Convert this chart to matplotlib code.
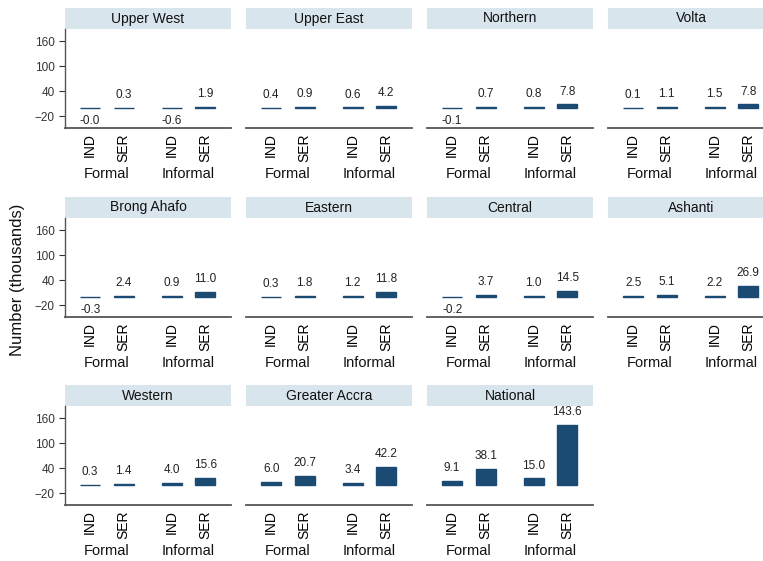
import numpy as np
import matplotlib
matplotlib.use('Agg')
import matplotlib.pyplot as plt

plt.rcParams['font.family'] = ['Liberation Sans', 'DejaVu Sans']

# Regions and values (thousands): Formal IND, Formal SER, Informal IND, Informal SER
regions = ['Upper West', 'Upper East', 'Northern', 'Volta',
           'Brong Ahafo', 'Eastern', 'Central', 'Ashanti',
           'Western', 'Greater Accra', 'National']
formal_ind = [-0.0, 0.4, -0.1, 0.1, -0.3, 0.3, -0.2, 2.5, 0.3, 6.0, 9.1]
formal_ser = [0.3, 0.9, 0.7, 1.1, 2.4, 1.8, 3.7, 5.1, 1.4, 20.7, 38.1]
informal_ind = [-0.6, 0.6, 0.8, 1.5, 0.9, 1.2, 1.0, 2.2, 4.0, 3.4, 15.0]
informal_ser = [1.9, 4.2, 7.8, 7.8, 11.0, 11.8, 14.5, 26.9, 15.6, 42.2, 143.6]
bar_labels = ['IND', 'SER', 'IND', 'SER']
groups = ['Formal', 'Informal']
yticks = [-20, 40, 100, 160]

W, H = 763, 561
fig = plt.figure(figsize=(W / 100, H / 100), dpi=100)
fig.patch.set_facecolor('white')

bar_col = '#1b4a72'
strip_col = '#d8e5ec'
xpos = np.array([0, 1, 2.43, 3.43])

col_x = [65, 246, 427, 608]
strip_top = [8, 197, 385]
strip_h = 21
plot_h = 99
panel_w = 166


def px(x, y, w, h):
    return [x / W, 1 - (y + h) / H, w / W, h / H]


for i, name in enumerate(regions):
    r, c = divmod(i, 4)
    x0 = col_x[c]
    y0 = strip_top[r]

    # strip with the region name
    sax = fig.add_axes(px(x0, y0, panel_w, strip_h))
    sax.set_facecolor(strip_col)
    sax.set_xticks([])
    sax.set_yticks([])
    for s in sax.spines.values():
        s.set_visible(False)
    sax.text(0.5, 0.5, name, ha='center', va='center', fontsize=10, color='#111111')

    ax = fig.add_axes(px(x0, y0 + strip_h, panel_w, plot_h))
    vals = [formal_ind[i], formal_ser[i], informal_ind[i], informal_ser[i]]
    ax.bar(xpos, vals, width=0.6, color=bar_col, edgecolor=bar_col, linewidth=1)
    for xp, v in zip(xpos, vals):
        if np.signbit(v):
            ax.annotate(f'{v:.1f}', (xp, v), xytext=(0, -5), textcoords='offset points',
                        ha='center', va='top', fontsize=8.5, color='#222222')
        else:
            ax.annotate(f'{v:.1f}', (xp, v), xytext=(0, 5), textcoords='offset points',
                        ha='center', va='bottom', fontsize=8.5, color='#222222')
    ax.set_xlim(-0.75, 4.2)
    ax.set_ylim(-48.7, 189)
    ax.set_xticks(xpos)
    ax.set_xticklabels(bar_labels, rotation=90, fontsize=10)
    ax.tick_params(axis='x', length=0, pad=4)
    for s in ['top', 'right']:
        ax.spines[s].set_visible(False)
    ax.spines['bottom'].set_color('#555555')
    ax.spines['bottom'].set_linewidth(1.3)
    if c == 0:
        ax.set_yticks(yticks)
        ax.tick_params(axis='y', labelsize=8.5, length=4, width=0.8, colors='#333333')
        ax.spines['left'].set_color('#555555')
        ax.spines['left'].set_linewidth(1.0)
    else:
        ax.spines['left'].set_visible(False)
        ax.set_yticks([])
    # group labels below the bar labels
    for g, gx in zip(groups, [(xpos[0] + xpos[1]) / 2, (xpos[2] + xpos[3]) / 2]):
        ax.annotate(g, (gx, 0), xycoords=('data', 'axes fraction'), xytext=(0, -33),
                    textcoords='offset points', ha='center', va='center', fontsize=10.5,
                    color='#111111')

fig.text(18 / W, 1 - 280 / H, 'Number (thousands)', rotation=90, ha='center', va='center',
         fontsize=12, color='#111111')

fig.savefig('out.png', dpi=100)
